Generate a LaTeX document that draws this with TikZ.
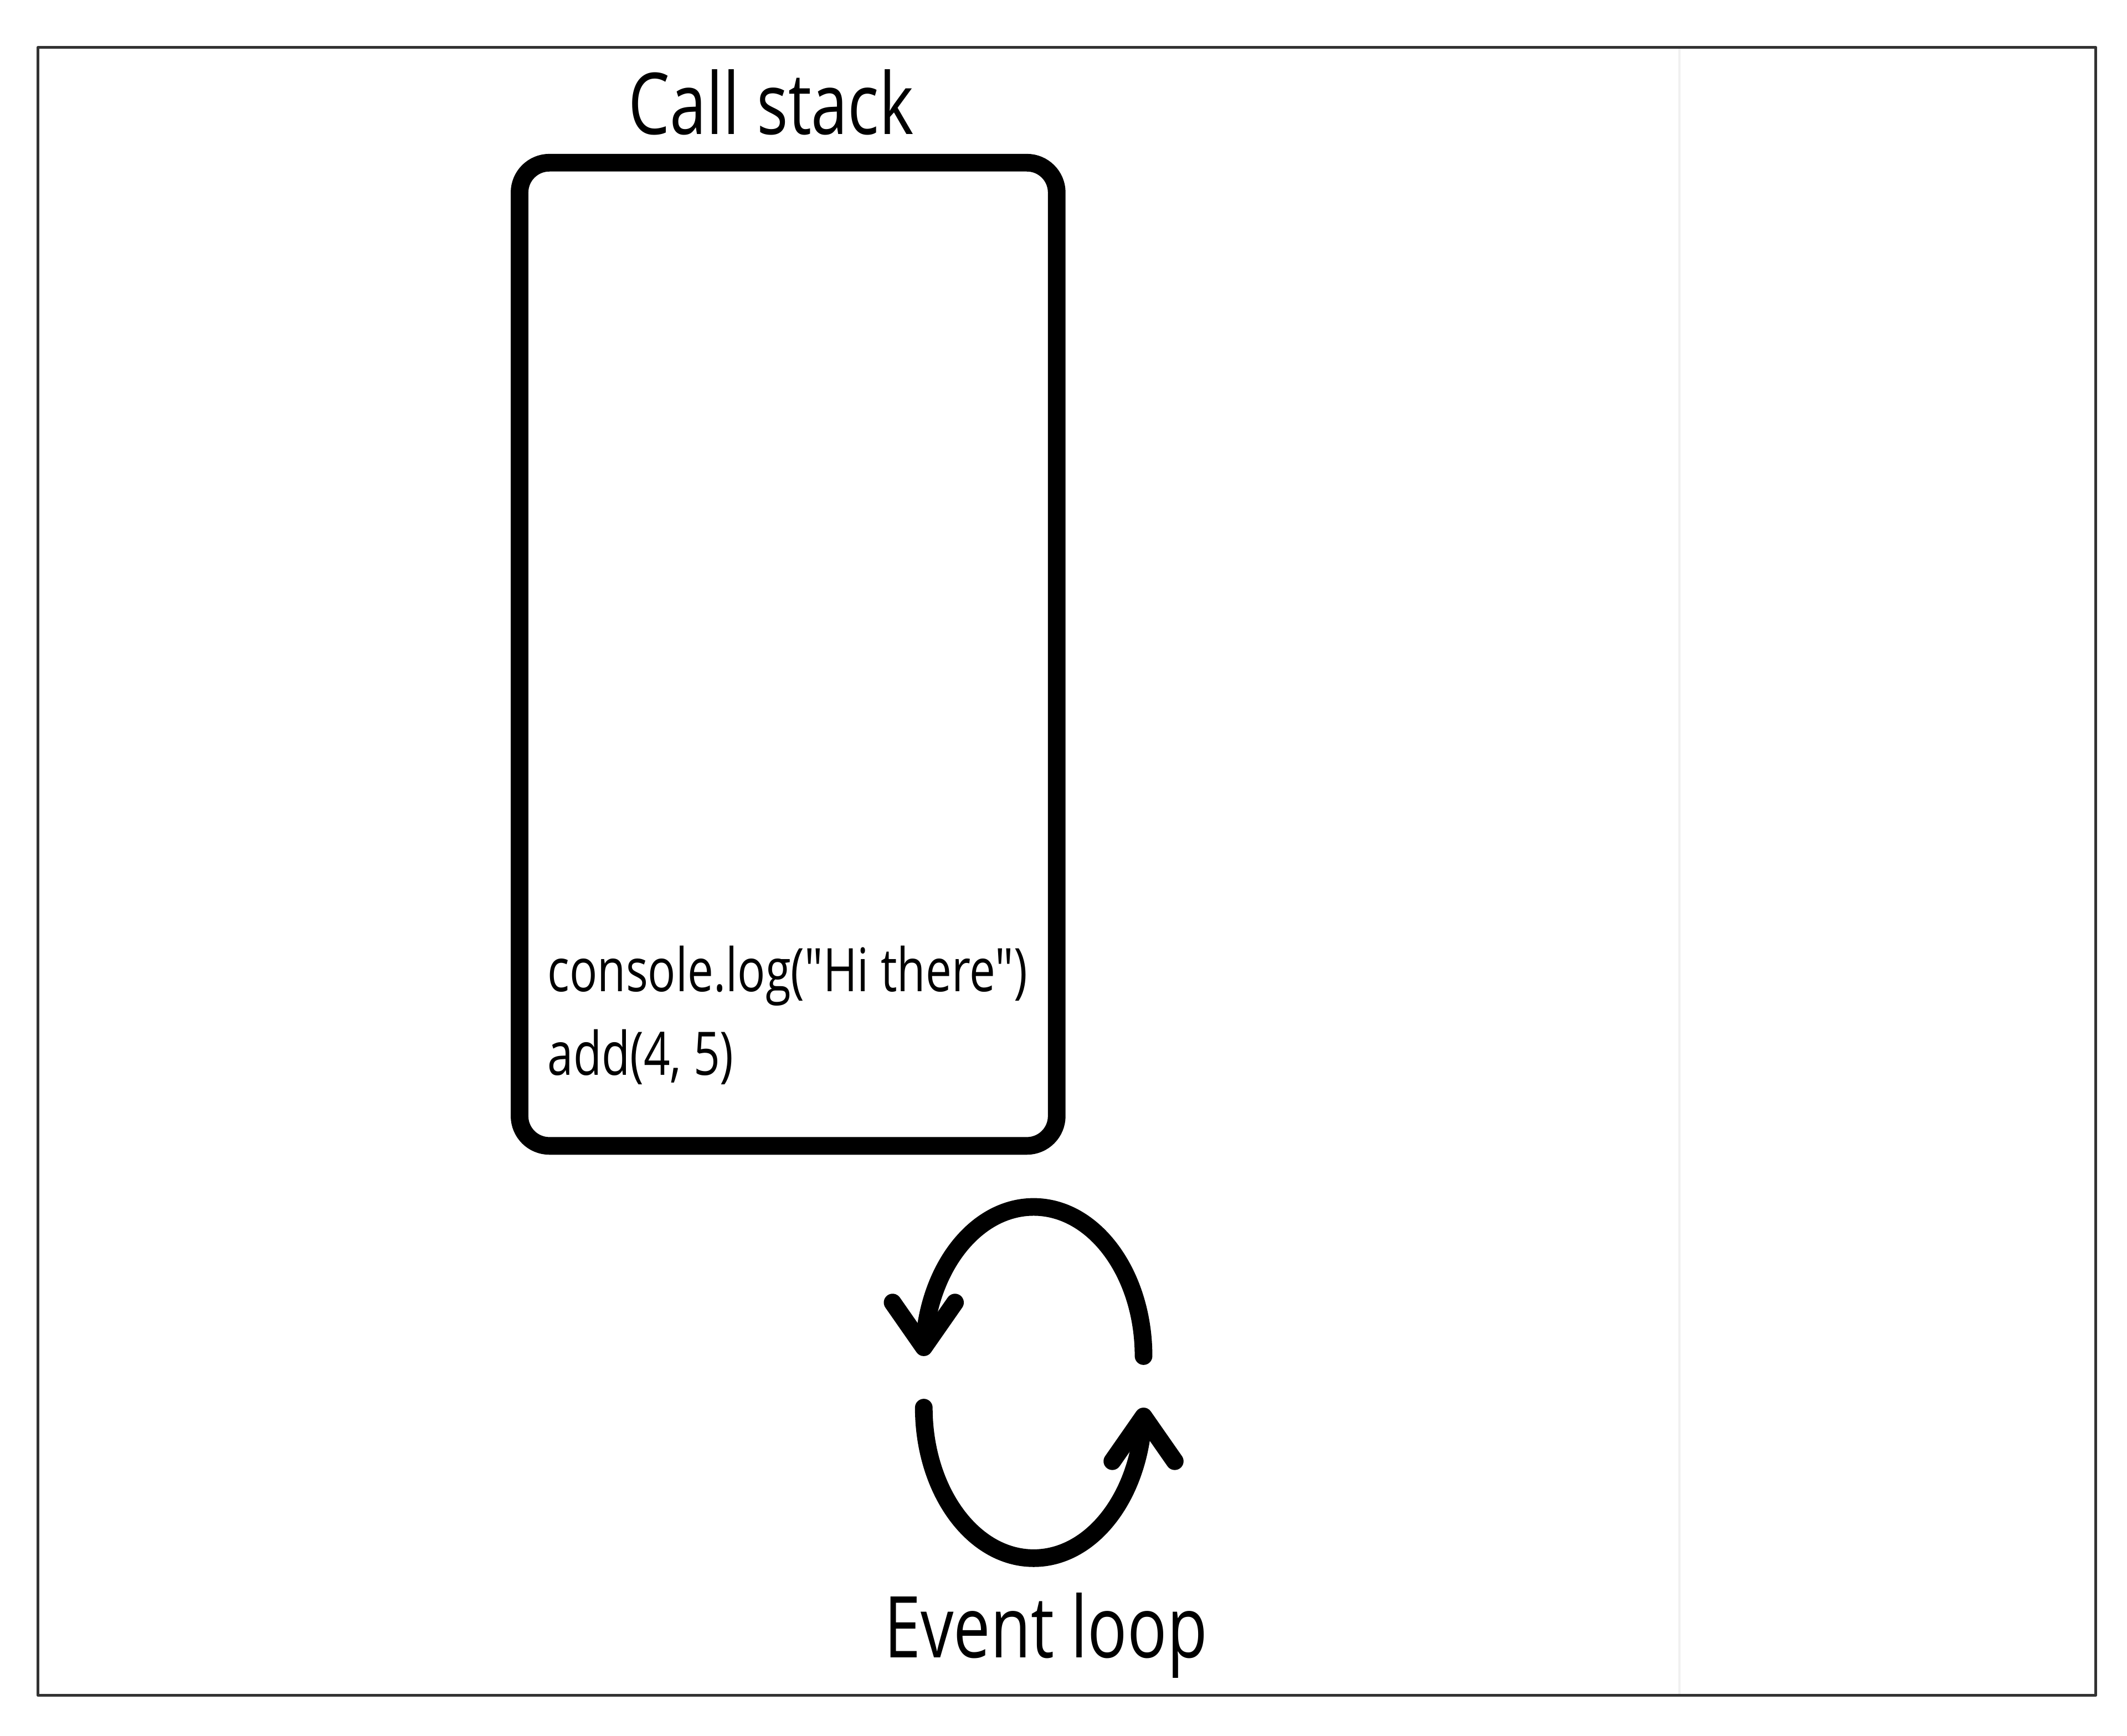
\documentclass[tikz,border=0pt]{standalone}
\usepackage{fontspec}
\newfontfamily\diagfont[FakeStretch=0.77]{Open Sans}
\usetikzlibrary{arrows.meta,bending}

\begin{document}
\begin{tikzpicture}[
  line cap=round,
  line join=round,
  every node/.style={font=\diagfont,inner sep=0pt},
  outerframe/.style={draw=black!80,line width=0.6pt},
  stackbox/.style={draw,line width=3.7pt,rounded corners=0.22cm,
    minimum width=3.96cm,minimum height=7.25cm},
  looparc/.style={line width=3.7pt,
    -{Straight Barb[length=0.33cm,width=0.46cm,line cap=round,line join=round]}},
  headline/.style={font=\diagfont\fontsize{17.9}{21}\selectfont},
  codeline/.style={font=\diagfont\fontsize{12.6}{15}\selectfont,anchor=base west}
]
\useasboundingbox (0,0) rectangle (15.68,12.80);

% ------------------------------------------------------------------
% Frame
% ------------------------------------------------------------------
\draw[black!6,line width=0.5pt] (12.38,0.30) -- (12.38,12.45);
\draw[outerframe] (0.28,0.30) rectangle (15.45,12.45);

% ------------------------------------------------------------------
% Call stack
% ------------------------------------------------------------------
\node[stackbox] (stack) at (5.81,7.975) {};
\node[headline,anchor=base] (stacktitle) at (5.685,11.81) {Call stack};

\node[codeline] (call1) at (4.03,5.49) {console.log("Hi there")};
\node[codeline] (call2) at (4.03,4.87) {add(4, 5)};

% ------------------------------------------------------------------
% Event loop
% ------------------------------------------------------------------
\draw[looparc] (8.43,2.80) arc[start angle=0,end angle=180,x radius=0.81cm,y radius=1.10cm];
\draw[looparc] (6.81,2.42) arc[start angle=180,end angle=360,x radius=0.81cm,y radius=1.11cm];

\node[headline,anchor=base] (looplabel) at (7.71,0.575) {Event loop};

\end{tikzpicture}
\end{document}
